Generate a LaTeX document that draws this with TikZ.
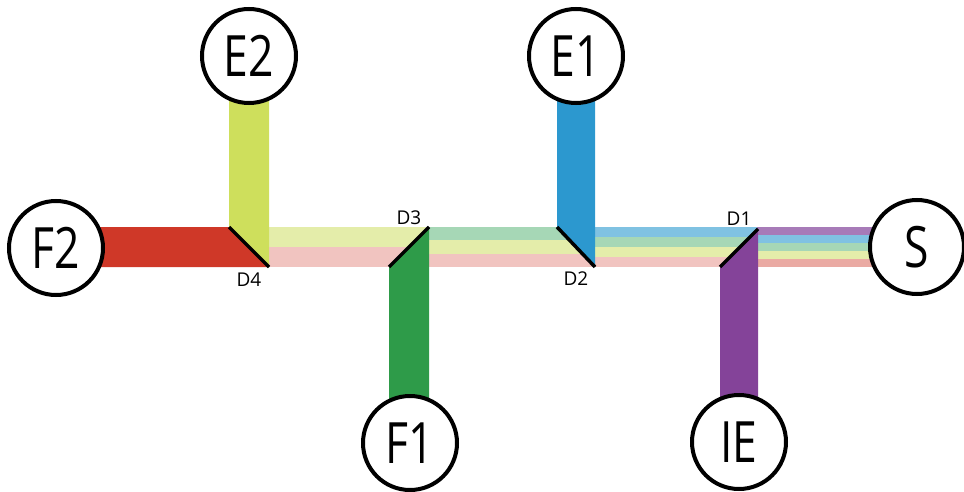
\documentclass[tikz,border=0pt]{standalone}
\usepackage{fontspec}
\setmainfont{Open Sans}
\newfontfamily\stationfont[FakeStretch=0.78]{Open Sans}
\usetikzlibrary{backgrounds,positioning}

\definecolor{beamred}{RGB}{207,56,40}
\definecolor{beamyellow}{RGB}{206,223,92}
\definecolor{beamgreen}{RGB}{46,155,73}
\definecolor{beamblue}{RGB}{44,152,207}
\definecolor{beampurple}{RGB}{132,67,153}
\definecolor{lightyellow}{RGB}{228,237,170}
\definecolor{lightpink}{RGB}{241,196,192}
\definecolor{lightred}{RGB}{234,170,163}
\definecolor{lightgreen}{RGB}{166,215,182}
\definecolor{lightblue}{RGB}{128,194,226}
\definecolor{lightpurple}{RGB}{167,123,184}

\tikzset{
  station/.style={circle,draw=black,line width=4pt,fill=white,
    minimum size=94pt,inner sep=0pt,font=\stationfont\fontsize{57}{57}\selectfont},
  mirror/.style={draw=black,line width=3.5pt},
  mlabel/.style={inner sep=0pt,font=\fontsize{19}{19}\selectfont}
}

\begin{document}
\begin{tikzpicture}[x=1pt,y=-1pt]
      \useasboundingbox (0,0) rectangle (964,492);
      % mirror end points
      \coordinate (D4a) at (229,227);
      \coordinate (D4b) at (269,267);
      \coordinate (D3a) at (389,267);
      \coordinate (D3b) at (429,227);
      \coordinate (D2a) at (557,227);
      \coordinate (D2b) at (595,267);
      \coordinate (D1a) at (720,267);
      \coordinate (D1b) at (758,229);
      \begin{scope}[every node/.style={station}]
        \node (F2) at (56,248) {F2};
        \node (E2) at (249,56) {E2};
        \node (F1) at (410,443) {F1};
        \node (E1) at (576,56) {E1};
        \node (IE) at (739,442) {IE};
        \node (S) at (917,247) {S};
      \end{scope}
      \begin{scope}[on background layer]
        % mixed beam
        \fill[lightyellow] (269,227) rectangle (429,247);
        \fill[lightpink] (269,247) rectangle (429,267);
        \fill[lightgreen] (429,227) rectangle (595,240.3);
        \fill[lightyellow] (429,240.3) rectangle (595,253.7);
        \fill[lightpink] (429,253.7) rectangle (595,267);
        \fill[lightblue] (595,227) rectangle (758,237);
        \fill[lightgreen] (595,237) rectangle (758,247);
        \fill[lightyellow] (595,247) rectangle (758,257);
        \fill[lightpink] (595,257) rectangle (758,267);
        \fill[lightpurple] (757,227) rectangle (S.center |- 0,235);
        \fill[lightblue] (757,235) rectangle (S.center |- 0,243);
        \fill[lightgreen] (757,243) rectangle (S.center |- 0,251);
        \fill[lightyellow] (757,251) rectangle (S.center |- 0,259);
        \fill[lightred] (757,259) rectangle (S.center |- 0,267);
        % single beams
        \fill[beamred] (F2.center) |- (D4a) -- (D4b) -| (F2.center);
        \fill[beamyellow] (D4a) |- (E2.center) -| (D4b) -- cycle;
        \fill[beamgreen] (D3a) -- (D3b) |- (F1.center) -| (D3a) -- cycle;
        \fill[beamblue] (D2a) |- (E1.center) -| (D2b) -- cycle;
        \fill[beampurple] (D1a) -- (D1b) |- (IE.center) -| (D1a) -- cycle;
        % mirrors
        \path[mirror] (D4a) -- (D4b);
        \path[mirror] (D3a) -- (D3b);
        \path[mirror] (D2a) -- (D2b);
        \path[mirror] (D1a) -- (D1b);
      \end{scope}
      \node[mlabel] (L4) at (249,280) {D4};
      \node[mlabel] (L3) at (409,218) {D3};
      \node[mlabel] (L2) at (576,279) {D2};
      \node[mlabel] (L1) at (739,219) {D1};
    \end{tikzpicture}
\end{document}
